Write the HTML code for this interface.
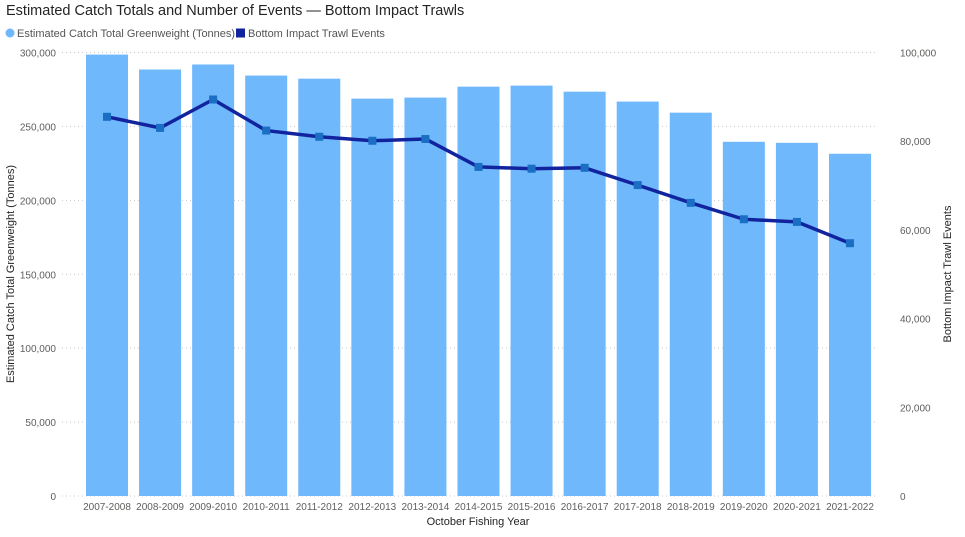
<!DOCTYPE html>
<html><head><meta charset="utf-8"><style>
body{margin:0;background:#fff;font-family:"Liberation Sans",sans-serif}
svg text{font-family:"Liberation Sans",sans-serif}
</style></head><body>
<svg id="c" width="965" height="532">
<text x="6" y="15" font-size="14.5" fill="#252423">Estimated Catch Totals and Number of Events — Bottom Impact Trawls</text>
<g>
<circle cx="10" cy="33" r="4.5" fill="#6fb8fc"/>
<text x="17" y="37" font-size="11" fill="#555">Estimated Catch Total Greenweight (Tonnes)</text>
<rect x="236" y="28.5" width="9" height="9" fill="#12239e"/>
<text x="248" y="37" font-size="11" fill="#555">Bottom Impact Trawl Events</text>
</g>
<g id="grid"></g><g id="bars"></g><g id="line"></g><g id="axes"></g>
<text transform="translate(14,274) rotate(-90)" text-anchor="middle" font-size="11" fill="#252423">Estimated Catch Total Greenweight (Tonnes)</text>
<text transform="translate(951,274) rotate(-90)" text-anchor="middle" font-size="11" fill="#252423">Bottom Impact Trawl Events</text>
<text x="478" y="525" text-anchor="middle" font-size="11" fill="#252423">October Fishing Year</text>
</svg>
<script>
const categories=["2007-2008","2008-2009","2009-2010","2010-2011","2011-2012","2012-2013","2013-2014","2014-2015","2015-2016","2016-2017","2017-2018","2018-2019","2019-2020","2020-2021","2021-2022"];
const catchValues=[298600,288500,291900,284400,282300,268800,269500,276900,277600,273500,266800,259300,239600,238900,231500];
const eventValues=[85500,83000,89400,82400,81000,80100,80500,74200,73800,74000,70100,66100,62400,61800,57000];
const leftTicks=[0,50000,100000,150000,200000,250000,300000];
const rightTicks=[0,20000,40000,60000,80000,100000];
const NS="http://www.w3.org/2000/svg";
const y0=496,yTop=52.5;
const yL=v=>y0-(v/300000)*(y0-yTop);
const yR=v=>y0-(v/100000)*(y0-yTop);
const step=53.07,x0=107;
const xC=i=>x0+i*step;
function mk(t,a,p){const e=document.createElementNS(NS,t);for(const k in a)e.setAttribute(k,a[k]);p.appendChild(e);return e;}
const fmt=v=>v.toLocaleString("en-US");
const grid=document.getElementById("grid"),axes=document.getElementById("axes");
leftTicks.forEach(v=>{
 const l=mk("line",{x1:62,x2:878,y1:yL(v),y2:yL(v),stroke:"#c8c8c8","stroke-dasharray":"1,3"},grid);
 
 
 const t=mk("text",{x:56,y:yL(v)+4,"text-anchor":"end","font-size":"10","fill":"#605e5c"},axes);
 t.textContent=fmt(v);
 
 
});
rightTicks.forEach(v=>{
 const t=mk("text",{x:900,y:yR(v)+4,"font-size":"10","fill":"#605e5c"},axes);
 t.textContent=fmt(v);
 
 
});
const bars=document.getElementById("bars");
categories.forEach((c,i)=>{
 const r=mk("rect",{x:xC(i)-21,y:yL(catchValues[i]),width:42,height:y0-yL(catchValues[i]),fill:"#6fb8fc"},bars);
 
 
 const t=mk("text",{x:xC(i),y:510,"text-anchor":"middle","font-size":"10","fill":"#605e5c"},axes);
 t.textContent=c;
 
 
});
const line=document.getElementById("line");
const pl=mk("polyline",{points:eventValues.map((v,i)=>xC(i)+","+yR(v)).join(" "),fill:"none",stroke:"#12239e","stroke-width":"3.5","stroke-linejoin":"round"},line);


eventValues.forEach((v,i)=>{
 const m=mk("rect",{x:xC(i)-4,y:yR(v)-4,width:8,height:8,fill:"#1a6fc4"},line);
 
 
});
</script>
</body></html>
